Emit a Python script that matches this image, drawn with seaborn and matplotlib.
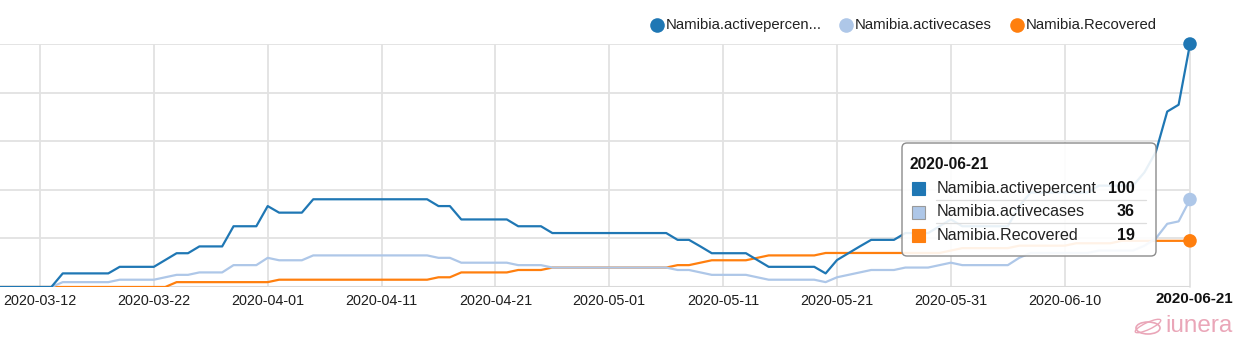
import numpy as np
import pandas as pd
import matplotlib
matplotlib.use("Agg")
import matplotlib.pyplot as plt
import matplotlib.dates as mdates
from matplotlib.transforms import IdentityTransform
from matplotlib.patches import FancyBboxPatch, Rectangle, Ellipse
from matplotlib.lines import Line2D
import seaborn as sns

# ---------------- data ----------------
start_date = "2020-03-08"
end_date = "2020-06-21"

activepercent = [
    # March 08 - 31
    0, 0, 0, 0, 0, 0, 5.6, 5.6, 5.6, 5.6, 5.6, 8.3, 8.3, 8.3, 8.3, 11.1, 13.9, 13.9,
    16.7, 16.7, 16.7, 25.0, 25.0, 25.0,
    # April
    33.3, 30.6, 30.6, 30.6, 36.1, 36.1, 36.1, 36.1, 36.1, 36.1, 36.1, 36.1, 36.1, 36.1,
    36.1, 33.3, 33.3, 27.8, 27.8, 27.8, 27.8, 27.8, 25.0, 25.0, 25.0, 22.2, 22.2, 22.2,
    22.2, 22.2,
    # May
    22.2, 22.2, 22.2, 22.2, 22.2, 22.2, 19.4, 19.4, 16.7, 13.9, 13.9, 13.9, 13.9, 11.1,
    8.3, 8.3, 8.3, 8.3, 8.3, 5.6, 11.1, 13.9, 16.7, 19.4, 19.4, 19.4, 22.2, 22.2, 22.2,
    25.0, 27.8,
    # June 01 - 21
    25.0, 25.0, 25.0, 25.0, 25.0, 33.3, 38.9, 38.9, 38.9, 38.9, 38.9, 38.9, 41.7, 41.7,
    41.7, 41.7, 47.2, 55.6, 72.2, 75.0, 100,
]

activecases = [
    # March 08 - 31
    0, 0, 0, 0, 0, 0, 2, 2, 2, 2, 2, 3, 3, 3, 3, 4, 5, 5, 6, 6, 6, 9, 9, 9,
    # April
    12, 11, 11, 11, 13, 13, 13, 13, 13, 13, 13, 13, 13, 13, 13, 12, 12, 10, 10, 10, 10,
    10, 9, 9, 9, 8, 8, 8, 8, 8,
    # May
    8, 8, 8, 8, 8, 8, 7, 7, 6, 5, 5, 5, 5, 4, 3, 3, 3, 3, 3, 2, 4, 5, 6, 7, 7, 7, 8, 8,
    8, 9, 10,
    # June 01 - 21
    9, 9, 9, 9, 9, 12, 14, 14, 14, 14, 14, 14, 15, 15, 15, 15, 17, 20, 26, 27, 36,
]

recovered = [
    # March 08 - 31
    0, 0, 0, 0, 0, 0, 0, 0, 0, 0, 0, 0, 0, 0, 0, 0, 2, 2, 2, 2, 2, 2, 2, 2,
    # April
    2, 3, 3, 3, 3, 3, 3, 3, 3, 3, 3, 3, 3, 3, 3, 4, 4, 6, 6, 6, 6, 6, 7, 7, 7, 8, 8, 8,
    8, 8,
    # May
    8, 8, 8, 8, 8, 8, 9, 9, 10, 11, 11, 11, 11, 12, 13, 13, 13, 13, 13, 14, 14, 14, 14,
    14, 14, 14, 14, 14, 14, 14, 15,
    # June 01 - 21
    16, 16, 16, 16, 16, 17, 17, 17, 17, 17, 18, 18, 18, 18, 19, 19, 19, 19, 19, 19, 19,
]

series_names = ["Namibia.activepercent", "Namibia.activecases", "Namibia.Recovered"]
legend_labels = ["Namibia.activepercen...", "Namibia.activecases", "Namibia.Recovered"]
colors = ["#1f77b4", "#aec7e8", "#ff7f0e"]
tick_labels = ["2020-03-12", "2020-03-22", "2020-04-01", "2020-04-11", "2020-04-21",
               "2020-05-01", "2020-05-11", "2020-05-21", "2020-05-31", "2020-06-10"]
y_ticks = [0, 20, 40, 60, 80, 100]
tooltip_title = "2020-06-21"

# ---------------- frame ----------------
dates = pd.date_range(start_date, end_date, freq="D")
df = pd.concat([
    pd.DataFrame({"date": dates, "value": vals, "series": name})
    for name, vals in zip(series_names, [activepercent, activecases, recovered])
], ignore_index=True)
last = df[df["date"] == dates[-1]]

# ---------------- figure ----------------
W, H = 1233, 337
sns.set_theme(style="white")
plt.rcParams["font.family"] = ["Liberation Sans", "DejaVu Sans"]

fig = plt.figure(figsize=(W / 100, H / 100), dpi=100)
ax = fig.add_axes([0, 1 - 287 / H, 1190 / W, (287 - 44) / H])

palette = dict(zip(series_names, colors))
sns.lineplot(data=df, x="date", y="value", hue="series", palette=palette,
             hue_order=series_names[::-1], estimator=None, legend=False,
             linewidth=1.6, ax=ax)
sns.scatterplot(data=last, x="date", y="value", hue="series", palette=palette,
                s=95, linewidth=0, legend=False, ax=ax, zorder=6, clip_on=False)

px_per_day = 11.393
x0 = pd.Timestamp("2020-03-12") - pd.Timedelta(days=40 / px_per_day)
ax.set_xlim(mdates.date2num(x0), mdates.date2num(pd.Timestamp(end_date)))
ax.set_ylim(0, 100)

grid_c = "#e2e2e2"
ax.set_yticks(y_ticks)
ax.set_yticklabels([])
ax.set_xticks([mdates.date2num(pd.Timestamp(t)) for t in tick_labels])
ax.set_xticklabels(tick_labels, fontsize=10.4, color="#1e1e1e")
ax.tick_params(length=0, pad=5)
ax.grid(True, color=grid_c, linewidth=1.3)
ax.set_axisbelow(True)
for s in ax.spines.values():
    s.set_visible(False)
ax.axvline(mdates.date2num(pd.Timestamp(end_date)), color=grid_c, lw=1.3, zorder=0.5, clip_on=False)
ax.axhline(0, color="#d9d9d9", lw=2.2, zorder=0.6)
ax.set_xlabel("")
ax.set_ylabel("")

I = IdentityTransform()

def T(x, y, s, **kw):
    fig.text(x / W, 1 - y / H, s, **kw)

# bold last x label (hovered date), right at the edge
T(1155, 299, "2020-06-21", fontsize=10.9, fontweight="bold", color="#111111",
  ha="left", va="center")

# ---------------- legend ----------------
leg_x = [657, 846, 1017]
for lx, lab, c in zip(leg_x, legend_labels, colors):
    fig.add_artist(Line2D([lx], [H - 25], transform=I, marker="o", markersize=10.5,
                          color=c, linestyle="", markeredgewidth=0))
    T(lx + 9, 25, lab, fontsize=10.7, color="#222222", ha="left", va="center")

# ---------------- tooltip ----------------
box = FancyBboxPatch((902, H - 256), 254, 113, boxstyle="round,pad=0,rounding_size=5",
                     transform=I, facecolor=(1, 1, 1, 0.9), edgecolor="#8c8c8c",
                     linewidth=1, zorder=10)
fig.add_artist(box)
T(910, 165, tooltip_title, fontsize=11.2, fontweight="bold", color="#111111",
  ha="left", va="center", zorder=11)
row_y = [188, 212, 235]
tip_vals = [activepercent[-1], activecases[-1], recovered[-1]]
for ry, name, c, v in zip(row_y, series_names, colors, tip_vals):
    fig.add_artist(Rectangle((912, H - ry - 6.5), 13, 13, transform=I, facecolor=c,
                             edgecolor="#9a9a9a" if c == "#aec7e8" else c,
                             linewidth=0.8, zorder=11))
    T(937, ry, name, fontsize=11.6, color="#222222", ha="left", va="center", zorder=11)
    T(1135, ry, f"{v:g}", fontsize=11.6, fontweight="bold", color="#111111",
      ha="right", va="center", zorder=11)
for sy in [199.5, 222.5]:
    fig.add_artist(Line2D([936, 1146], [H - sy, H - sy], transform=I, color="#dddddd",
                          linewidth=0.9, zorder=11))

# ---------------- watermark ----------------
pink = "#eaa6b8"
fig.add_artist(Ellipse((1148, H - 328), 24, 12, transform=I, fill=False,
                       edgecolor=pink, linewidth=1.2))
fig.add_artist(Ellipse((1148, H - 326), 28, 7, angle=25, transform=I, fill=False,
                       edgecolor=pink, linewidth=1.0))
T(1165, 326, "iunera", fontsize=17.5, color=pink, ha="left", va="center")

fig.savefig("out.png", dpi=100)
